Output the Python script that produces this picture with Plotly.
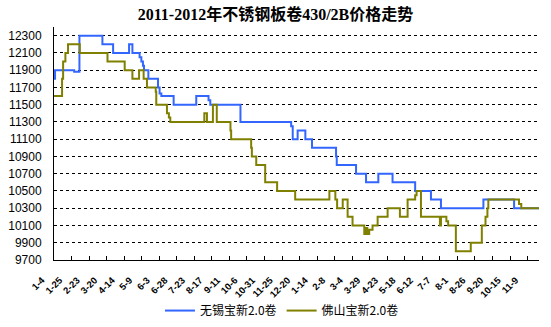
import plotly.graph_objects as go

title = "2011-2012年不锈钢板卷430/2B价格走势"
tick_labels = ["1-4", "1-25", "2-23", "3-20", "4-14", "5-9", "6-3", "6-28", "7-23", "8-17",
               "9-11", "10-6", "10-31", "11-25", "12-20", "1-14", "2-8", "3-4", "3-29", "4-23",
               "5-18", "6-12", "7-7", "8-1", "8-26", "9-20", "10-15", "11-9"]

# step change points: position (in tick-interval units) and price from that point on
wuxi_x = [0, 0.06, 1.15, 1.45, 2.76, 3.37, 4.28, 4.47, 4.88, 4.98, 5.07, 5.13, 5.38, 5.93, 6.02,
          6.12, 6.82, 8.11, 8.81, 8.91, 10.63, 13.52, 13.61, 13.89, 14.33, 14.71, 16.08, 16.12,
          17.22, 17.79, 18.49, 19.30, 20.59, 21.49, 22.06, 24.48, 26.23, 27.65]
wuxi_y = [11800, 11900, 11880, 12300, 12200, 12100, 12200, 12100, 12050, 12000, 11950, 11900,
          11800, 11700, 11630, 11600, 11500, 11600, 11550, 11500, 11300, 11250, 11100, 11200,
          11100, 11000, 10900, 10800, 10700, 10600, 10700, 10600, 10500, 10400, 10300, 10400,
          10300, 10300]

foshan_x = [0, 0.46, 0.52, 0.65, 0.80, 1.47, 3.05, 4.03, 4.47, 4.85, 5.11, 5.30, 5.80, 5.83,
            6.44, 6.55, 6.63, 8.57, 8.72, 9.06, 9.28, 10.06, 10.10, 11.24, 11.28, 11.53, 12.04,
            12.72, 13.75, 15.70, 16.04, 16.14, 16.46, 16.74, 17.02, 17.69, 17.80, 17.86, 17.97,
            18.16, 18.45, 19.02, 19.72, 20.16, 20.59, 20.67, 20.92, 22.00, 22.06, 22.37, 22.47,
            22.91, 23.76, 24.39, 24.60, 24.71, 24.76, 26.51, 26.64, 27.65]
foshan_y = [11600, 11800, 12000, 12100, 12200, 12100, 12000, 11900, 11800, 11900, 11800, 11700,
            11650, 11500, 11400, 11350, 11300, 11400, 11300, 11500, 11300, 11200, 11100, 11000,
            10900, 10800, 10600, 10500, 10400, 10500, 10400, 10300, 10400, 10200, 10100, 10000,
            10070, 10000, 10050, 10100, 10200, 10300, 10200, 10400, 10450, 10500, 10200, 10100,
            10200, 10150, 10100, 9800, 9900, 10100, 10200, 10300, 10400, 10350, 10300, 10300]

series_names = ["无锡宝新2.0卷", "佛山宝新2.0卷"]
y_ticks = [9700, 9900, 10100, 10300, 10500, 10700, 10900, 11100, 11300, 11500, 11700, 11900,
           12100, 12300]

fig = go.Figure()
fig.add_trace(go.Scatter(x=wuxi_x, y=wuxi_y, mode="lines", line_shape="hv",
                         name=series_names[0], line=dict(color="#3366FF", width=2)))
fig.add_trace(go.Scatter(x=foshan_x, y=foshan_y, mode="lines", line_shape="hv",
                         name=series_names[1], line=dict(color="#808000", width=2)))

fig.update_layout(
    width=551, height=327,
    margin=dict(l=54, r=12, t=27, b=67, autoexpand=False),
    paper_bgcolor="white", plot_bgcolor="white",
    title=dict(text=title, x=0.5, xanchor="center", y=0.955, yanchor="middle",
               font=dict(family="Liberation Serif, Noto Sans CJK SC", size=16, color="black",
                         weight="bold")),
    showlegend=True,
    legend=dict(orientation="h", x=0.47, xanchor="center", y=-0.217, yanchor="middle",
                font=dict(family="Noto Sans CJK SC", size=12, color="black"),
                itemwidth=30, tracegroupgap=0, bgcolor="rgba(0,0,0,0)"),
    font=dict(family="Liberation Sans", color="black"),
)
fig.update_xaxes(range=[0, 27.65], tickmode="array", tickvals=list(range(len(tick_labels))),
                 ticktext=tick_labels, tickangle=-45, ticks="inside", ticklen=4,
                 tickcolor="black", showline=True, linecolor="black", linewidth=1,
                 showgrid=False, zeroline=False, ticklabelshift=-12, ticklabelstandoff=10,
                 automargin=False,
                 tickfont=dict(family="Liberation Sans", size=9.5, color="black", weight="bold"))
fig.update_yaxes(range=[9700, 12400], tickmode="array", tickvals=y_ticks,
                 ticktext=[str(v) for v in y_ticks],
                 showline=True, linecolor="black", linewidth=1, ticks="",
                 ticklabelstandoff=9, automargin=False,
                 showgrid=True, gridcolor="black", gridwidth=1, griddash="3px,3px",
                 zeroline=False,
                 tickfont=dict(family="Liberation Sans", size=12, color="black"))

fig.write_html("out.html")
